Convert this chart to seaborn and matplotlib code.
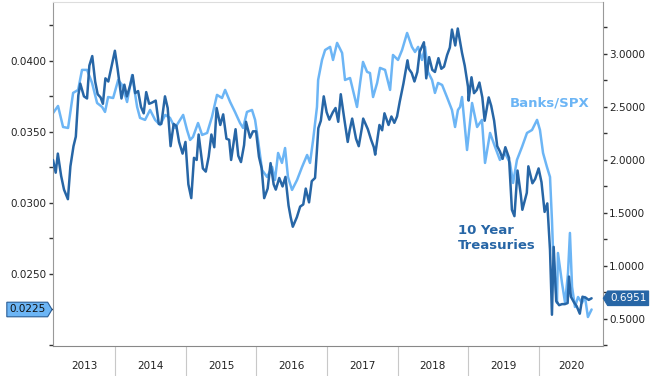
import pandas as pd
import matplotlib
matplotlib.use("Agg")
import matplotlib.pyplot as plt
import matplotlib.dates as mdates
from matplotlib.path import Path
from matplotlib.ticker import FixedLocator, FixedFormatter, MultipleLocator, FormatStrFormatter
import seaborn as sns

# Banks/SPX ratio (left axis)
bank_dates = [
    "2013-02-15", "2013-03-12", "2013-04-07", "2013-05-03", "2013-05-29", "2013-06-24", "2013-07-14",
    "2013-08-09", "2013-09-04", "2013-09-30", "2013-10-26", "2013-11-10", "2013-11-26", "2013-12-22",
    "2014-01-17", "2014-02-06", "2014-03-04", "2014-03-30", "2014-04-25", "2014-05-10", "2014-06-05",
    "2014-07-01", "2014-07-27", "2014-08-22", "2014-09-17", "2014-10-12", "2014-11-07", "2014-12-03",
    "2014-12-19",
    "2015-01-08", "2015-01-24", "2015-02-08", "2015-03-06", "2015-03-27", "2015-04-22", "2015-05-17",
    "2015-06-12", "2015-07-08", "2015-07-24", "2015-08-19", "2015-09-13", "2015-10-09", "2015-10-25",
    "2015-11-14", "2015-12-10", "2015-12-26",
    "2016-01-10", "2016-01-31", "2016-02-26", "2016-03-23", "2016-04-07", "2016-04-23", "2016-05-13",
    "2016-05-29", "2016-06-13", "2016-07-04", "2016-07-30", "2016-08-25", "2016-09-20", "2016-10-05",
    "2016-10-21", "2016-11-10", "2016-11-16", "2016-12-06", "2016-12-22",
    "2017-01-17", "2017-02-01", "2017-02-22", "2017-03-20", "2017-04-04", "2017-04-30", "2017-05-15",
    "2017-06-05", "2017-06-21", "2017-07-06", "2017-07-27", "2017-08-11", "2017-08-27", "2017-09-17",
    "2017-10-02", "2017-10-28", "2017-11-23", "2017-12-08",
    "2018-01-03", "2018-01-24", "2018-02-19", "2018-03-16", "2018-04-01", "2018-04-17", "2018-05-07",
    "2018-05-23", "2018-06-07", "2018-06-28", "2018-07-13", "2018-07-29", "2018-08-19", "2018-09-13",
    "2018-10-09", "2018-10-25", "2018-11-09", "2018-11-20", "2018-11-30", "2018-12-26",
    "2019-01-21", "2019-02-16", "2019-03-13", "2019-03-29", "2019-04-24", "2019-05-20", "2019-06-14",
    "2019-07-10", "2019-08-05", "2019-08-21", "2019-09-10", "2019-10-06", "2019-11-01", "2019-11-27",
    "2019-12-23",
    "2020-01-07", "2020-01-23", "2020-02-12", "2020-02-28", "2020-03-09", "2020-03-14", "2020-03-25",
    "2020-04-04", "2020-04-09", "2020-04-30", "2020-05-16", "2020-05-31", "2020-06-10", "2020-06-21",
    "2020-07-06", "2020-07-22", "2020-08-11", "2020-08-27", "2020-09-11", "2020-09-30",
]
bank_vals = [
    0.03634, 0.03683, 0.03535, 0.03528, 0.03775, 0.03796, 0.03937,
    0.03937, 0.03845, 0.03704, 0.03676, 0.03641, 0.03746, 0.03739,
    0.03866, 0.03831, 0.03711, 0.03901, 0.03676, 0.03599, 0.03585,
    0.03655, 0.03585, 0.03549, 0.03620, 0.03599, 0.03528, 0.03585,
    0.03620,
    0.03514, 0.03444, 0.03465, 0.03563, 0.03479, 0.03493, 0.03606,
    0.03761, 0.03739, 0.03796, 0.03711, 0.03641, 0.03563, 0.03528,
    0.03641, 0.03655, 0.03585,
    0.03444, 0.03232, 0.03183, 0.03254, 0.03162, 0.03352, 0.03282,
    0.03387, 0.03183, 0.03092, 0.03162, 0.03254, 0.03338, 0.03282,
    0.03444, 0.03676, 0.03866, 0.04007, 0.04077,
    0.04099, 0.04007, 0.04127, 0.04056, 0.03866, 0.03880, 0.03796,
    0.03676, 0.03845, 0.03993, 0.03923, 0.03915, 0.03746, 0.03845,
    0.03951, 0.03937, 0.03796, 0.04042,
    0.04007, 0.04077, 0.04197, 0.04099, 0.04063, 0.04099, 0.04007,
    0.04099, 0.03923, 0.03866, 0.03775, 0.03845, 0.03831, 0.03746,
    0.03655, 0.03535, 0.03655, 0.03676, 0.03746, 0.03373,
    0.03704, 0.03535, 0.03585, 0.03282, 0.03493, 0.03394, 0.03303,
    0.03352, 0.03282, 0.03141, 0.03303, 0.03394, 0.03493, 0.03514,
    0.03585,
    0.03514, 0.03352, 0.03254, 0.03183, 0.02880, 0.02690, 0.02458,
    0.02296, 0.02648, 0.02437, 0.02296, 0.02507, 0.02789, 0.02409,
    0.02268, 0.02338, 0.02296, 0.02338, 0.02197, 0.0225,
]

# 10 year treasury yield (right axis)
tsy_dates = [
    "2013-02-14", "2013-02-28", "2013-03-11", "2013-03-28", "2013-04-12", "2013-05-02", "2013-05-15",
    "2013-05-31", "2013-06-12", "2013-06-25", "2013-07-05", "2013-07-24", "2013-08-09", "2013-08-21",
    "2013-09-05", "2013-09-20", "2013-10-03", "2013-10-18", "2013-10-30", "2013-11-12", "2013-11-27",
    "2013-12-12", "2013-12-31",
    "2014-01-14", "2014-02-03", "2014-02-18", "2014-03-03", "2014-03-18", "2014-04-02", "2014-04-15",
    "2014-04-30", "2014-05-15", "2014-05-29", "2014-06-11", "2014-06-26", "2014-07-10", "2014-07-30",
    "2014-08-15", "2014-08-28", "2014-09-16", "2014-09-30", "2014-10-15", "2014-10-31", "2014-11-14",
    "2014-11-28", "2014-12-16", "2014-12-31",
    "2015-01-15", "2015-01-30", "2015-02-13", "2015-02-27", "2015-03-09", "2015-03-31", "2015-04-15",
    "2015-04-30", "2015-05-14", "2015-05-29", "2015-06-10", "2015-06-29", "2015-07-14", "2015-07-31",
    "2015-08-14", "2015-08-24", "2015-09-16", "2015-09-30", "2015-10-14", "2015-10-30", "2015-11-09",
    "2015-11-30", "2015-12-15", "2015-12-31",
    "2016-01-15", "2016-01-29", "2016-02-11", "2016-02-29", "2016-03-15", "2016-03-31", "2016-04-11",
    "2016-04-29", "2016-05-16", "2016-05-31", "2016-06-16", "2016-06-27", "2016-07-08", "2016-07-29",
    "2016-08-15", "2016-08-31", "2016-09-13", "2016-09-30", "2016-10-14", "2016-10-31", "2016-11-09",
    "2016-11-17", "2016-11-30", "2016-12-15", "2016-12-30",
    "2017-01-13", "2017-01-31", "2017-02-14", "2017-02-28", "2017-03-13", "2017-03-31", "2017-04-18",
    "2017-04-28", "2017-05-11", "2017-05-31", "2017-06-14", "2017-06-30", "2017-07-07", "2017-07-31",
    "2017-08-17", "2017-08-31", "2017-09-07", "2017-09-29", "2017-10-13", "2017-10-25", "2017-11-15",
    "2017-11-30", "2017-12-15", "2017-12-29",
    "2018-01-12", "2018-01-31", "2018-02-21", "2018-02-28", "2018-03-15", "2018-03-29", "2018-04-13",
    "2018-04-25", "2018-05-17", "2018-05-29", "2018-06-13", "2018-06-29", "2018-07-13", "2018-07-31",
    "2018-08-15", "2018-08-29", "2018-09-14", "2018-09-28", "2018-10-09", "2018-10-26", "2018-11-08",
    "2018-11-30", "2018-12-14", "2018-12-31",
    "2019-01-03", "2019-01-18", "2019-01-31", "2019-02-14", "2019-02-28", "2019-03-15", "2019-03-27",
    "2019-04-17", "2019-04-30", "2019-05-15", "2019-05-31", "2019-06-14", "2019-06-28", "2019-07-12",
    "2019-07-31", "2019-08-15", "2019-08-28", "2019-09-13", "2019-09-30", "2019-10-08", "2019-10-31",
    "2019-11-08", "2019-11-29", "2019-12-13", "2019-12-31",
    "2020-01-15", "2020-01-31", "2020-02-14", "2020-02-28", "2020-03-09", "2020-03-18", "2020-03-31",
    "2020-04-15", "2020-04-30", "2020-05-15", "2020-05-29", "2020-06-05", "2020-06-15", "2020-06-30",
    "2020-07-15", "2020-07-31", "2020-08-14", "2020-08-31", "2020-09-15", "2020-09-30",
]
tsy_vals = [
    2.00, 1.88, 2.06, 1.85, 1.72, 1.63, 1.94, 2.13, 2.22, 2.61, 2.72, 2.60, 2.58, 2.89,
    2.98, 2.74, 2.62, 2.59, 2.53, 2.77, 2.74, 2.87, 3.03,
    2.86, 2.58, 2.71, 2.60, 2.69, 2.80, 2.63, 2.65, 2.50, 2.44, 2.64, 2.53, 2.54, 2.56,
    2.34, 2.34, 2.60, 2.49, 2.13, 2.34, 2.32, 2.17, 2.06, 2.17,
    1.77, 1.64, 2.02, 2.00, 2.24, 1.92, 1.89, 2.03, 2.24, 2.12, 2.49, 2.33, 2.43, 2.20,
    2.19, 2.00, 2.29, 2.04, 1.98, 2.14, 2.36, 2.21, 2.27, 2.27,
    2.03, 1.92, 1.64, 1.73, 1.97, 1.77, 1.72, 1.83, 1.75, 1.84, 1.57, 1.46, 1.37, 1.46,
    1.56, 1.58, 1.73, 1.60, 1.80, 1.83, 2.07, 2.30, 2.37, 2.60, 2.45,
    2.38, 2.45, 2.49, 2.36, 2.62, 2.39, 2.17, 2.28, 2.39, 2.20, 2.13, 2.30, 2.39, 2.29,
    2.19, 2.12, 2.05, 2.33, 2.28, 2.44, 2.33, 2.41, 2.35, 2.41,
    2.55, 2.72, 2.94, 2.86, 2.82, 2.74, 2.83, 3.02, 3.11, 2.77, 2.97, 2.85, 2.83, 2.96,
    2.86, 2.88, 2.99, 3.06, 3.23, 3.08, 3.24, 3.01, 2.89, 2.69,
    2.56, 2.78, 2.63, 2.66, 2.73, 2.59, 2.37, 2.59, 2.51, 2.37, 2.13, 2.08, 2.01, 2.12,
    2.02, 1.53, 1.47, 1.90, 1.67, 1.53, 1.69, 1.94, 1.78, 1.82, 1.92,
    1.79, 1.51, 1.59, 1.15, 0.54, 1.18, 0.67, 0.63, 0.64, 0.64, 0.65, 0.90, 0.71, 0.66,
    0.62, 0.55, 0.71, 0.70, 0.68, 0.6951,
]

year_labels = ["2013", "2014", "2015", "2016", "2017", "2018", "2019", "2020"]

DARK = '#2766A6'
LIGHT = '#6CB5F5'

sns.set_style("white")
plt.rcParams['font.family'] = ['DejaVu Sans']

bank = pd.DataFrame({'date': pd.to_datetime(bank_dates), 'ratio': bank_vals})
tsy = pd.DataFrame({'date': pd.to_datetime(tsy_dates), 'yield': tsy_vals})


def tag_shape(point):
    """Box with a small pointed end, used for the last-value tags"""
    def shape(x0, y0, width, height, mutation_size):
        pad = 0.22 * mutation_size
        x0, y0 = x0 - pad, y0 - pad
        w, h = width + 2 * pad, height + 2 * pad
        tip = 0.3 * h
        if point == 'right':
            verts = [(x0, y0), (x0 + w, y0), (x0 + w + tip, y0 + h / 2),
                     (x0 + w, y0 + h), (x0, y0 + h), (x0, y0)]
        else:
            verts = [(x0 - tip, y0 + h / 2), (x0, y0), (x0 + w, y0),
                     (x0 + w, y0 + h), (x0, y0 + h), (x0 - tip, y0 + h / 2)]
        return Path(verts, closed=True)
    return shape


fig = plt.figure(figsize=(6.52, 3.76), dpi=100)
ax = fig.add_axes([53 / 652, 30 / 376, 550 / 652, 344 / 376])
ax2 = ax.twinx()

sns.lineplot(data=bank, x='date', y='ratio', ax=ax, color=LIGHT, lw=1.8)
sns.lineplot(data=tsy, x='date', y='yield', ax=ax2, color=DARK, lw=1.8)

x_start, x_end = pd.Timestamp('2013-02-14'), pd.Timestamp('2020-11-28')
ax.set_xlim(x_start, x_end)
ax.set_ylim(0.01993, 0.04415)
ax2.set_ylim(0.245, 3.49)
for a in (ax, ax2):
    a.set_xlabel('')
    a.set_ylabel('')

# left axis ticks
ax.yaxis.set_major_locator(FixedLocator([0.025, 0.03, 0.035, 0.04]))
ax.yaxis.set_major_formatter(FormatStrFormatter('%.4f'))
ax.yaxis.set_minor_locator(FixedLocator([0.02, 0.0225, 0.0275, 0.0325, 0.0375, 0.0425]))
ax.tick_params(axis='y', which='both', left=True, direction='out', length=3, width=1.0,
               color='#333333', labelsize=7.5, labelcolor='#222222', pad=1.5)

# right axis ticks
ax2.yaxis.set_major_locator(MultipleLocator(0.5))
ax2.yaxis.set_major_formatter(FormatStrFormatter('%.4f'))
ax2.yaxis.set_minor_locator(FixedLocator([0.25, 0.75, 1.25, 1.75, 2.25, 2.75, 3.25]))
ax2.tick_params(axis='y', which='both', right=True, direction='out', length=3, width=1.0,
                color='#333333', labelsize=7.5, labelcolor='#222222', pad=1.5)

# x axis: long separators at year starts, labels centred in each visible year
ax.xaxis.set_major_locator(mdates.YearLocator())
ax.tick_params(axis='x', which='major', bottom=True, direction='out', length=21.6, width=0.8,
               color='#c8c8c8', labelbottom=False)
bounds = [x_start] + [pd.Timestamp(f'{y}-01-01') for y in range(2014, 2021)] + [x_end]
centres = [bounds[i] + (bounds[i + 1] - bounds[i]) / 2 for i in range(len(bounds) - 1)]
ax.xaxis.set_minor_locator(FixedLocator(mdates.date2num(centres)))
ax.xaxis.set_minor_formatter(FixedFormatter(year_labels))
ax.tick_params(axis='x', which='minor', bottom=True, length=0, pad=11, labelsize=7.5,
               labelcolor='#222222', labelbottom=True)

# spines
ax.spines['right'].set_visible(False)
ax.spines['top'].set_color('#dddddd')
ax.spines['left'].set_color('#999999')
ax.spines['bottom'].set_color('#888888')
for side in ('top', 'left', 'bottom'):
    ax2.spines[side].set_visible(False)
ax2.spines['right'].set_color('#999999')

# series labels
ax.text(0.831, 0.706, 'Banks/SPX', transform=ax.transAxes, color=LIGHT,
        fontsize=9.5, fontweight='bold', ha='left', va='center')
ax.text(0.736, 0.314, '10 Year\nTreasuries', transform=ax.transAxes, color=DARK,
        fontsize=9.5, fontweight='bold', ha='left', va='center', linespacing=1.25)

# last value tags
ax.annotate(f'{bank_vals[-1]:.4f}', xy=(0, bank_vals[-1]), xycoords=ax.get_yaxis_transform(),
            xytext=(-5.5, 0), textcoords='offset points', ha='right', va='center',
            fontsize=7.5, color='#111111', annotation_clip=False,
            bbox=dict(boxstyle=tag_shape('right'), fc=LIGHT, ec='#2a5d95', lw=0.8))
ax2.annotate(f'{tsy_vals[-1]:.4f}', xy=(1, tsy_vals[-1]), xycoords=ax2.get_yaxis_transform(),
             xytext=(5.0, 0), textcoords='offset points', ha='left', va='center',
             fontsize=7.5, color='white', annotation_clip=False,
             bbox=dict(boxstyle=tag_shape('left'), fc=DARK, ec=DARK, lw=0.8))

fig.savefig('out.png', dpi=100)
